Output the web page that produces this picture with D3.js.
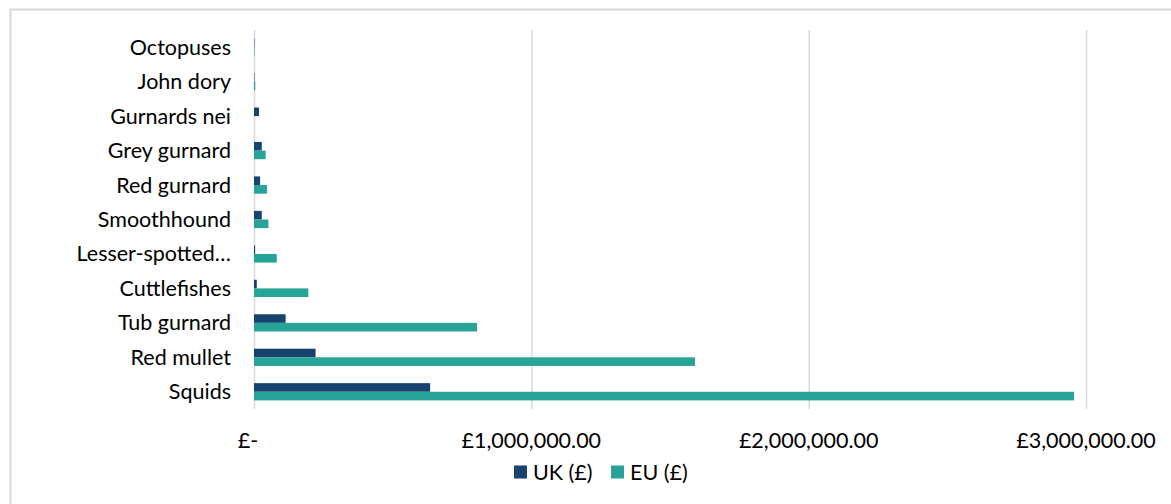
<!DOCTYPE html>
<html>
<head>
<meta charset="utf-8">
<script src="https://cdn.jsdelivr.net/npm/d3@7"></script>
<style>
  body { margin: 0; background: #fff; }
  svg text { font-family: Lato, "Noto Sans", sans-serif; fill: #000; font-size: 21.5px; }
</style>
</head>
<body>
<div id="chart"></div>
<script>
// bottom to top, as in the source chart
const species = ["Squids", "Red mullet", "Tub gurnard", "Cuttlefishes", "Lesser-spotted…",
    "Smoothhound", "Red gurnard", "Grey gurnard", "Gurnards nei", "John dory", "Octopuses"];
const ukValues = [635000, 222000, 114000, 10000, 4000, 28000, 22000, 28000, 18000, 1500, 1500];
const euValues = [2957000, 1590000, 804000, 196000, 82000, 52000, 47000, 42000, 0, 4500, 1500];
const seriesNames = ["UK (£)", "EU (£)"];
const xTicks = [0, 1000000, 2000000, 3000000];

const width = 1171;
const height = 504;
const margin = { top: 30, right: 85, bottom: 95, left: 254 };
const colors = ["#17436e", "#27a397"];

const svg = d3.select("#chart")
    .append("svg")
    .attr("width", width)
    .attr("height", height);

// outer chart frame (runs off the right and bottom edges)
svg.append("rect")
    .attr("x", 10.5)
    .attr("y", 9.5)
    .attr("width", 1300)
    .attr("height", 600)
    .attr("fill", "#fff")
    .attr("stroke", "#d9d9d9")
    .attr("stroke-width", 2);

const x = d3.scaleLinear()
    .domain([0, 3000000])
    .range([margin.left, width - margin.right]);

const y = d3.scaleBand()
    .domain(species.slice().reverse())
    .range([margin.top, height - margin.bottom])
    .paddingInner(0.5)
    .paddingOuter(0.25);

const ySub = d3.scaleBand()
    .domain(seriesNames)
    .range([0, y.bandwidth()]);

// gridlines
svg.append("g")
    .selectAll("line")
    .data(xTicks)
    .join("line")
    .attr("x1", d => x(d) + 0.5)
    .attr("x2", d => x(d) + 0.5)
    .attr("y1", margin.top)
    .attr("y2", height - margin.bottom)
    .attr("stroke", "#d9d9d9")
    .attr("stroke-width", 1.5);

// bars
const rows = species.map((s, i) => ({ name: s, values: [ukValues[i], euValues[i]] }));

const groups = svg.append("g")
    .selectAll("g")
    .data(rows)
    .join("g")
    .attr("transform", d => `translate(0,${y(d.name)})`);

groups.selectAll("rect")
    .data(d => d.values.map((v, i) => ({ key: seriesNames[i], value: v, i })))
    .join("rect")
    .attr("x", x(0))
    .attr("y", d => ySub(d.key))
    .attr("width", d => x(d.value) - x(0))
    .attr("height", ySub.bandwidth())
    .attr("fill", d => colors[d.i]);

// category labels
svg.append("g")
    .selectAll("text")
    .data(species)
    .join("text")
    .attr("x", x(0) - 23)
    .attr("y", d => y(d) + y.bandwidth() / 2)
    .attr("dy", "0.35em")
    .attr("text-anchor", "end")
    .text(d => d);

// x axis labels
const fmt = d => d === 0 ? "£-" : "£" + d3.format(",.2f")(d);
svg.append("g")
    .selectAll("text")
    .data(xTicks)
    .join("text")
    .attr("x", d => x(d) + (d === 0 ? -6 : 0))
    .attr("y", 440)
    .attr("dy", "0.35em")
    .attr("text-anchor", "middle")
    .text(fmt);

// legend
const legend = svg.append("g")
    .selectAll("g")
    .data(seriesNames)
    .join("g")
    .attr("transform", (d, i) => `translate(${514 + i * 97},472)`);

legend.append("rect")
    .attr("x", 0)
    .attr("y", -6.5)
    .attr("width", 13)
    .attr("height", 13)
    .attr("fill", (d, i) => colors[i]);

legend.append("text")
    .attr("x", 19)
    .attr("dy", "0.35em")
    .text(d => d);
</script>
</body>
</html>
